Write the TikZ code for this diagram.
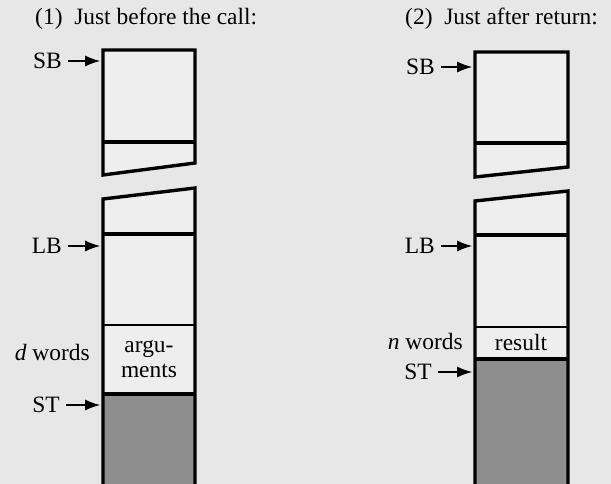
\documentclass[tikz,border=0pt]{standalone}
\usepackage{fontspec}
\setmainfont{Liberation Serif}
\usepackage{tikz}
\usetikzlibrary{arrows.meta,positioning,calc}
\definecolor{Paper}{HTML}{E7E7E7}
\definecolor{Cell}{HTML}{EEEEEE}
\definecolor{Used}{HTML}{8E8E8E}
\tikzset{
  frame/.style={draw=black, line width=2.9pt, line join=miter, fill=Cell},
  heavyline/.style={draw=black, line width=2.9pt},
  slimline/.style={draw=black, line width=1.8pt},
  usedpart/.style={fill=Used, draw=none},
  ptr/.style={-{Latex[length=13pt,width=9.5pt]}, line width=1.7pt, shorten >=0.5pt},
  reg/.style={inner sep=0pt, anchor=east, font=\fontsize{20}{23}\selectfont},
  caption/.style={inner sep=0pt, anchor=west, font=\fontsize{20}{23}\selectfont},
  cell/.style={inner sep=0pt, align=center, font=\fontsize{20}{22}\selectfont}
}
\begin{document}
\begin{tikzpicture}[x=0.03cm, y=-0.03cm]
\fill[Paper] (0,0) rectangle (611,484);
\useasboundingbox (0,0) rectangle (611,484);
% (1) before the call, left edge 103, right edge 195
\node[caption] (title1) at (35,19) {(1)\enspace Just before the call:};
\draw[frame] (103,50) -- (195,50) -- (195,163) -- (103,175) -- cycle;
\draw[heavyline] (103,142) -- (195,142);
\fill[Cell] (103,490) -- (103,199) -- (195,188) -- (195,490) -- cycle;
\fill[usedpart] (103,394) rectangle (195,490);
\draw[frame, fill=none] (103,490) -- (103,199) -- (195,188) -- (195,490);
\draw[heavyline] (103,234) -- (195,234);
\draw[slimline] (103,325) -- (195,325);
\draw[heavyline] (103,394) -- (195,394);
\node[cell] (args) at (149,359) {argu-\\ments};
\node[reg] (sb1) at (62,61) {SB};
\node[reg] (lb1) at (62,246) {LB};
\node[reg] (st1) at (60,405) {ST};
\node[reg] (d) at (90,352) {\textit{d} words};
\coordinate (sbtip1) at (101,61);
\coordinate (lbtip1) at (101,246);
\coordinate (sttip1) at (101,405);
\foreach \a/\b in {sb1/sbtip1,lb1/lbtip1,st1/sttip1} \draw[ptr] ([xshift=5pt]\a.east) -- (\b);
% (2) after return, left edge 475, right edge 568
\node[caption] (title2) at (405,19) {(2)\enspace Just after return:};
\draw[frame] (475,52) -- (568,52) -- (568,167) -- (475,177) -- cycle;
\draw[heavyline] (475,143) -- (568,143);
\fill[Cell] (475,490) -- (475,201) -- (568,191) -- (568,490) -- cycle;
\fill[usedpart] (475,359) rectangle (568,490);
\draw[frame, fill=none] (475,490) -- (475,201) -- (568,191) -- (568,490);
\draw[heavyline] (475,235) -- (568,235);
\draw[slimline] (475,327) -- (568,327);
\draw[heavyline] (475,359) -- (568,359);
\node[cell] (res) at (521,342) {result};
\node[reg] (sb2) at (435,67) {SB};
\node[reg] (lb2) at (435,246) {LB};
\node[reg] (st2) at (432,372) {ST};
\node[reg] (n) at (463,341) {\textit{n} words};
\coordinate (sbtip2) at (473,67);
\coordinate (lbtip2) at (473,246);
\coordinate (sttip2) at (473,372);
\foreach \a/\b in {sb2/sbtip2,lb2/lbtip2,st2/sttip2} \draw[ptr] ([xshift=5pt]\a.east) -- (\b);
\end{tikzpicture}
\end{document}
